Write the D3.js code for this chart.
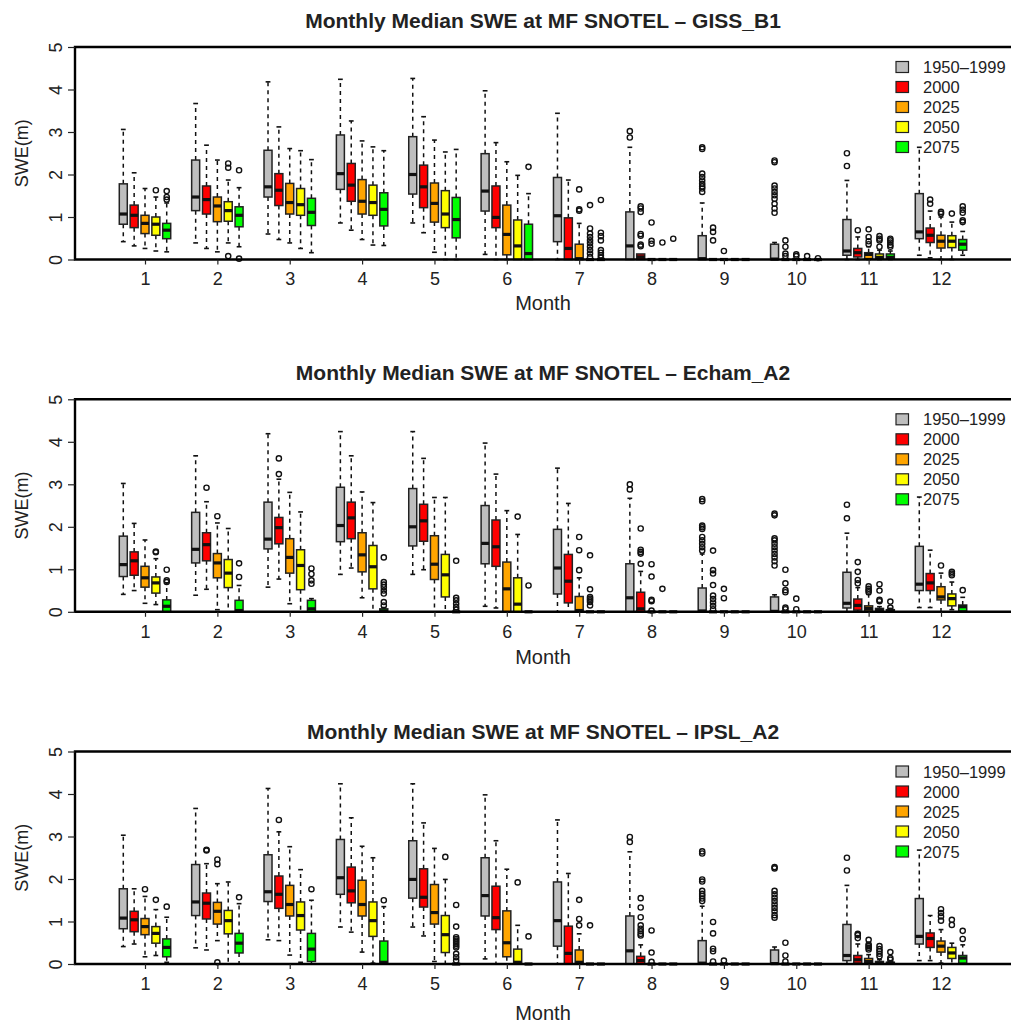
<!DOCTYPE html>
<html>
<head>
<meta charset="utf-8">
<script src="https://cdn.jsdelivr.net/npm/d3@7"></script>
<style>
  body { margin: 0; background: #fff; }
  text { font-family: "Liberation Sans", Arial, Helvetica, sans-serif; fill: #222; }
</style>
</head>
<body>
<svg id="chart" width="1011" height="1023"></svg>
<script>
// categories
const months = [1, 2, 3, 4, 5, 6, 7, 8, 9, 10, 11, 12];
const seriesNames = ["1950\u20131999", "2000", "2025", "2050", "2075"];
const seriesColors = ["#bebebe", "#ff0000", "#ffa500", "#ffff00", "#00ff00"];
const yTicks = [0, 1, 2, 3, 4, 5];
const panelTitles = [
  "Monthly Median SWE at MF SNOTEL \u2013 GISS_B1",
  "Monthly Median SWE at MF SNOTEL \u2013 Echam_A2",
  "Monthly Median SWE at MF SNOTEL \u2013 IPSL_A2"
];

// box stats per month, one [low whisker, q1, median, q3, high whisker] per series
const gissStats = [
  [[0.42,0.83,1.07,1.78,3.06],[0.32,0.75,1.04,1.28,2.04],[0.26,0.61,0.85,1.04,1.67],[0.2,0.57,0.83,1.0,1.47],[0.18,0.49,0.69,0.85,1.33]],
  [[0.39,1.15,1.47,2.34,3.67],[0.26,1.07,1.41,1.73,2.69],[0.18,0.89,1.26,1.47,2.34],[0.39,0.9,1.15,1.36,1.87],[0.3,0.77,1.04,1.24,1.69]],
  [[0.6,1.47,1.71,2.57,4.18],[0.47,1.27,1.63,2.02,3.12],[0.39,1.07,1.34,1.79,2.61],[0.26,1.04,1.29,1.67,2.56],[0.16,0.8,1.11,1.44,2.35]],
  [[0.86,1.65,2.02,2.93,4.24],[0.69,1.37,1.75,2.26,3.26],[0.47,1.07,1.37,1.88,2.79],[0.34,1.04,1.34,1.75,2.65],[0.33,0.79,1.18,1.57,2.56]],
  [[0.86,1.54,2.0,2.89,4.26],[0.63,1.22,1.71,2.22,3.36],[0.17,0.88,1.32,1.8,2.81],[0,0.75,1.07,1.62,2.53],[0,0.51,0.94,1.46,2.59]],
  [[0.12,1.14,1.61,2.49,3.97],[0,0.75,0.99,1.73,2.75],[0,0.11,0.59,1.28,2.3],[0,0,0.32,0.93,1.98],[0,0,0.14,0.83,1.55]],
  [[0,0.42,1.03,1.93,3.44],[0,0,0.26,0.98,1.87],[0,0,0.02,0.36,0.85],[0,0,0,0,0],[0,0,0,0,0]],
  [[0,0,0.32,1.12,2.64],[0,0,0.06,0.13,0.13],[0,0,0,0,0],[0,0,0,0,0],[0,0,0,0,0]],
  [[0,0,0.02,0.56,1.33],[0,0,0,0,0],[0,0,0,0,0],[0,0,0,0,0],[0,0,0,0,0]],
  [[0,0,0.01,0.36,0.4],[0,0,0,0,0],[0,0,0,0,0],[0,0,0,0,0],[0,0,0,0,0]],
  [[0,0.1,0.2,0.94,1.86],[0,0.06,0.16,0.26,0.53],[0,0.02,0.12,0.16,0.3],[0,0.01,0.05,0.13,0.22],[0,0.01,0.05,0.13,0.2]],
  [[0.1,0.49,0.65,1.55,2.64],[0.04,0.4,0.57,0.74,1.14],[0,0.27,0.43,0.57,1.0],[0,0.28,0.43,0.56,0.88],[0.1,0.22,0.36,0.47,0.66]]
];
const gissOutliers = [
  [[],[],[],[1.63],[1.61,1.47,1.41]],
  [[],[],[],[2.26,2.16,0.08],[2.1,0.02]],
  [[],[],[],[],[]],
  [[],[],[],[],[]],
  [[],[],[],[],[]],
  [[],[],[],[],[2.18]],
  [[],[],[1.65,1.18,1.15],[1.28,0.73,0.61,0.53,0.45,0.38,0.3,0.22,0.14,0.06],[1.4,0.63,0.55,0.45,0.22,0.16,0.1,0.05]],
  [[3.02,2.87],[1.25,1.2,1.12,0.6,0.56,0.35,0.31],[0.87,0.44,0.37],[0.4],[0.49]],
  [[2.64,2.6,2.02,1.94,1.86,1.78,1.72,1.67,1.59],[0.75,0.65,0.45],[0.2],[],[]],
  [[2.33,2.29,1.74,1.67,1.59,1.51,1.43,1.31,1.2,1.1],[0.45,0.3,0.14,0.08],[0.12,0.08],[0.08],[0.03]],
  [[2.5,2.2],[0.69],[0.71,0.53,0.43,0.36],[0.55,0.49,0.45,0.3],[0.49,0.45,0.4,0.34,0.3]],
  [[],[1.41,1.31],[1.12,1.08],[1.08],[1.25,1.17,1.1,0.92,0.88]]
];

const echamStats = [
  [[0.41,0.83,1.11,1.78,3.02],[0.5,0.86,1.2,1.41,2.08],[0.2,0.58,0.8,1.07,1.69],[0.17,0.44,0.68,0.82,1.25],[0,0,0.13,0.28,0.68]],
  [[0.39,1.15,1.47,2.34,3.67],[0.53,1.2,1.58,1.86,2.59],[0.05,0.8,1.15,1.37,2.09],[0,0.57,0.91,1.23,1.96],[0,0,0.03,0.27,0.62]],
  [[0.58,1.48,1.71,2.58,4.19],[0.77,1.6,1.98,2.22,3.12],[0.19,0.91,1.28,1.72,2.81],[0,0.52,1.09,1.46,2.35],[0,0,0.07,0.27,0.31]],
  [[0.88,1.65,2.03,2.93,4.24],[1.03,1.72,2.21,2.58,3.67],[0.33,0.94,1.34,1.86,2.82],[0,0.54,1.06,1.56,2.57],[0,0,0.02,0.07,0.1]],
  [[0.88,1.55,2.0,2.9,4.24],[0.99,1.66,2.14,2.53,3.61],[0,0.76,1.12,1.79,2.69],[0,0.35,0.87,1.35,2.69],[0,0,0,0,0]],
  [[0.13,1.13,1.61,2.5,3.97],[0.09,1.07,1.53,2.16,3.24],[0,0,0.54,1.17,2.38],[0,0,0.18,0.8,1.82],[0,0,0,0,0]],
  [[0,0.42,1.03,1.94,3.38],[0,0.21,0.72,1.35,2.55],[0,0,0.03,0.36,0.8],[0,0,0,0,0],[0,0,0,0,0]],
  [[0,0,0.33,1.13,2.67],[0,0,0.07,0.46,0.95],[0,0,0,0,0],[0,0,0,0,0],[0,0,0,0,0]],
  [[0,0,0.02,0.56,1.36],[0,0,0,0,0],[0,0,0,0,0],[0,0,0,0,0],[0,0,0,0,0]],
  [[0,0,0.01,0.35,0.4],[0,0,0,0,0],[0,0,0,0,0],[0,0,0,0,0],[0,0,0,0,0]],
  [[0,0.09,0.2,0.93,1.85],[0,0.04,0.15,0.3,0.57],[0,0.02,0.08,0.14,0.41],[0,0.01,0.04,0.08,0.12],[0,0,0.02,0.05,0.08]],
  [[0.1,0.5,0.65,1.54,2.7],[0.1,0.5,0.68,0.9,1.45],[0,0.28,0.35,0.59,0.91],[0.05,0.14,0.31,0.42,0.7],[0,0.02,0.12,0.16,0.34]]
];
const echamOutliers = [
  [[],[],[],[1.42,1.4],[0.99,0.74,0.7]],
  [[],[2.92],[2.25],[],[1.14,0.82]],
  [[],[3.61,3.24],[],[],[1.02,0.89,0.74,0.66]],
  [[],[],[],[],[1.28,0.7,0.64,0.58,0.5,0.43,0.23,0.15]],
  [[],[],[],[],[1.2,0.33,0.27,0.19,0.11,0.05]],
  [[],[],[],[2.24],[0.62]],
  [[],[],[1.76,1.45,0.98],[1.33,0.53,0.35,0.31,0.27,0.23,0.15],[]],
  [[3.0,2.88],[1.96,1.46,1.41,1.37,1.13],[1.12,0.83,0.28,0.25,0.03],[0.54],[]],
  [[2.65,2.6,2.03,1.99,1.95,1.76,1.68,1.6,1.52,1.44],[1.44,0.98,0.9,0.63,0.38,0.3,0.22,0.14,0.06],[0.54,0.32],[],[]],
  [[2.31,2.27,1.73,1.68,1.6,1.52,1.44,1.36,1.28,1.19,1.09],[0.99,0.67,0.51,0.46,0.1,0.06],[0.31,0.06],[],[]],
  [[2.52,2.2],[1.17,0.94,0.75,0.67],[0.6,0.54,0.5,0.46],[0.65,0.5,0.28,0.25],[0.24,0.1]],
  [[],[],[1.09],[0.94,0.9,0.86],[0.51]]
];

const ipslStats = [
  [[0.41,0.83,1.08,1.77,3.03],[0.47,0.76,1.04,1.24,1.77],[0.17,0.69,0.88,1.07,1.59],[0.2,0.49,0.72,0.88,1.28],[0.04,0.17,0.39,0.59,1.1]],
  [[0.38,1.14,1.46,2.34,3.66],[0.33,1.06,1.43,1.67,2.36],[0.55,0.94,1.24,1.45,1.89],[0,0.71,1.02,1.26,1.93],[0,0.26,0.49,0.72,1.42]],
  [[0.57,1.47,1.7,2.57,4.13],[0.55,1.31,1.64,2.07,3.11],[0.21,1.13,1.4,1.85,2.76],[0.04,0.8,1.14,1.46,2.22],[0,0.06,0.35,0.72,1.5]],
  [[0.87,1.64,2.03,2.93,4.24],[0.75,1.44,1.72,2.28,3.44],[0.28,1.13,1.4,1.97,2.77],[0.02,0.65,1.02,1.46,2.5],[0,0,0.04,0.54,1.35]],
  [[0.87,1.55,1.99,2.9,4.24],[0.66,1.34,1.57,2.24,3.32],[0.06,0.94,1.21,1.87,2.72],[0,0.27,0.69,1.14,1.99],[0,0,0,0,0]],
  [[0.12,1.13,1.61,2.5,3.98],[0,0.81,1.09,1.83,2.9],[0,0.17,0.5,1.25,2.23],[0,0,0.04,0.35,0.91],[0,0,0,0,0]],
  [[0,0.42,1.02,1.93,3.39],[0,0,0.25,0.89,2.13],[0,0,0.04,0.33,0.71],[0,0,0,0,0],[0,0,0,0,0]],
  [[0,0,0.31,1.13,2.64],[0,0,0.08,0.18,0.45],[0,0,0,0,0],[0,0,0,0,0],[0,0,0,0,0]],
  [[0,0,0.02,0.55,1.36],[0,0,0,0,0],[0,0,0,0,0],[0,0,0,0,0],[0,0,0,0,0]],
  [[0,0,0.01,0.33,0.4],[0,0,0,0,0],[0,0,0,0,0],[0,0,0,0,0],[0,0,0,0,0]],
  [[0,0.08,0.2,0.93,1.85],[0,0.02,0.1,0.2,0.47],[0,0.01,0.06,0.13,0.22],[0,0,0.02,0.06,0.1],[0,0,0.02,0.04,0.06]],
  [[0.08,0.47,0.65,1.54,2.68],[0.08,0.39,0.6,0.73,1.14],[0.02,0.28,0.42,0.54,0.81],[0,0.13,0.26,0.39,0.49],[0,0.02,0.14,0.2,0.45]]
];
const ipslOutliers = [
  [[],[],[1.76],[1.51],[1.35]],
  [[],[2.69,2.67],[2.46,2.35,0.04],[],[1.57]],
  [[],[3.39],[],[],[1.76]],
  [[],[],[],[],[1.5]],
  [[],[],[],[2.52],[1.39,0.88,0.63,0.59,0.55,0.51,0.47,0.43,0.39,0.24,0.16,0.08]],
  [[],[],[],[1.92],[0.65]],
  [[],[],[1.51,1.06,0.91],[0.91],[]],
  [[2.99,2.87],[1.55,1.33,1.1,0.91,0.83,0.77,0.71,0.67],[0.79,0.27,0.05],[],[]],
  [[2.65,2.6,1.99,1.94,1.72,1.65,1.6,1.54,1.48],[0.99,0.72,0.36,0.3,0.06],[0.08],[],[]],
  [[2.28,2.25,1.72,1.64,1.56,1.48,1.4,1.32,1.24,1.15,1.09],[0.5,0.2,0.06],[],[],[]],
  [[2.5,2.2],[0.71,0.68,0.61],[0.57,0.46,0.42,0.38,0.34],[0.42,0.35,0.3,0.24,0.18],[0.28,0.14,0.1]],
  [[],[],[1.29,1.2,1.12,1.02],[1.04,0.92],[0.78,0.59]]
];

// layout
const svg = d3.select("#chart");
const x = d3.scaleLinear().domain([1, 12]).range([145, 941]);
const offsets = [-0.3, -0.15, 0, 0.15, 0.3];
const boxW = 8;
const leftX = 75, rightX = 1013;

const panels = [
  { title: panelTitles[0], stats: gissStats, outs: gissOutliers, top: 47, titleY: 28, monthY: 50 },
  { title: panelTitles[1], stats: echamStats, outs: echamOutliers, top: 399.3, titleY: 380, monthY: 52 },
  { title: panelTitles[2], stats: ipslStats, outs: ipslOutliers, top: 751.5, titleY: 739, monthY: 56 }
];

panels.forEach(p => {
  const zero = p.top + 212.5;
  const y = d3.scaleLinear().domain([0, 5]).range([zero, p.top]);
  const g = svg.append("g");

  // title
  g.append("text")
    .attr("x", 543).attr("y", p.titleY)
    .attr("text-anchor", "middle")
    .style("font-size", "21px").style("font-weight", "bold")
    .text(p.title);

  // boxes
  p.stats.forEach((monthStats, mi) => {
    monthStats.forEach((s, si) => {
      const cx = x(months[mi] + offsets[si]);
      const [lo, q1, med, q3, hi] = s;
      const bg = g.append("g");

      // whiskers (dashed) and staples
      if (hi > q3) {
        bg.append("line").attr("x1", cx).attr("x2", cx).attr("y1", y(q3)).attr("y2", y(hi))
          .attr("stroke", "#111").attr("stroke-width", 1.5).attr("stroke-dasharray", "4,4");
        bg.append("line").attr("x1", cx - 2.4).attr("x2", cx + 2.4).attr("y1", y(hi)).attr("y2", y(hi))
          .attr("stroke", "#111").attr("stroke-width", 1.6);
      }
      if (lo < q1) {
        bg.append("line").attr("x1", cx).attr("x2", cx).attr("y1", y(q1)).attr("y2", y(lo))
          .attr("stroke", "#111").attr("stroke-width", 1.5).attr("stroke-dasharray", "4,4");
        bg.append("line").attr("x1", cx - 2.4).attr("x2", cx + 2.4).attr("y1", y(lo)).attr("y2", y(lo))
          .attr("stroke", "#111").attr("stroke-width", 1.6);
      }

      bg.append("rect")
        .attr("x", cx - boxW / 2).attr("width", boxW)
        .attr("y", y(q3)).attr("height", Math.max(0, y(q1) - y(q3)))
        .attr("fill", seriesColors[si])
        .attr("stroke", "#222").attr("stroke-width", 1.5);

      bg.append("line")
        .attr("x1", cx - boxW / 2).attr("x2", cx + boxW / 2)
        .attr("y1", y(med)).attr("y2", y(med))
        .attr("stroke", "#111").attr("stroke-width", 3.2);

      bg.selectAll("circle")
        .data(p.outs[mi][si])
        .enter().append("circle")
        .attr("cx", cx).attr("cy", d => y(d)).attr("r", 2.6)
        .attr("fill", "none").attr("stroke", "#111").attr("stroke-width", 1.4);
    });
  });

  // frame: top, left, bottom (plot continues past the right edge)
  g.append("path")
    .attr("d", `M${rightX},${p.top}H${leftX}V${zero}H${rightX}`)
    .attr("fill", "none").attr("stroke", "#000").attr("stroke-width", 2.4);

  // y axis
  const yAxis = g.append("g")
    .attr("transform", `translate(${leftX},0)`)
    .call(d3.axisLeft(y).tickValues(yTicks).tickSize(7).tickFormat(d3.format("d")));
  yAxis.select(".domain").remove();
  yAxis.selectAll("line").attr("stroke", "#222").attr("stroke-width", 1.2);
  yAxis.selectAll("text")
    .attr("x", 0).attr("dy", 0)
    .attr("transform", "translate(-13,0) rotate(-90)")
    .attr("text-anchor", "middle")
    .style("font-size", "18px").style("font-family", "Liberation Sans, Arial, sans-serif")
    .attr("fill", "#222");

  // x axis
  const xAxis = g.append("g")
    .attr("transform", `translate(0,${zero})`)
    .call(d3.axisBottom(x).tickValues(months).tickSize(5).tickPadding(8).tickFormat(d3.format("d")));
  xAxis.select(".domain").remove();
  xAxis.selectAll("line").attr("stroke", "#222").attr("stroke-width", 1.2);
  xAxis.selectAll("text")
    .style("font-size", "18px").style("font-family", "Liberation Sans, Arial, sans-serif")
    .attr("fill", "#222");

  // axis titles
  g.append("text")
    .attr("x", 543).attr("y", zero + p.monthY)
    .attr("text-anchor", "middle")
    .style("font-size", "20px")
    .text("Month");
  g.append("text")
    .attr("transform", `translate(28,${(zero + p.top) / 2}) rotate(-90)`)
    .attr("text-anchor", "middle")
    .style("font-size", "18px")
    .text("SWE(m)");

  // legend (no background, drawn over the plot)
  const legend = g.append("g").attr("transform", `translate(896,${p.top + 20})`);
  seriesNames.forEach((name, i) => {
    legend.append("rect")
      .attr("x", 0).attr("y", i * 20 - 5.5)
      .attr("width", 12.5).attr("height", 11)
      .attr("fill", seriesColors[i]).attr("stroke", "#222").attr("stroke-width", 1.2);
    legend.append("text")
      .attr("x", 27).attr("y", i * 20 + 6)
      .style("font-size", "16.5px")
      .text(name);
  });
});
</script>
</body>
</html>
